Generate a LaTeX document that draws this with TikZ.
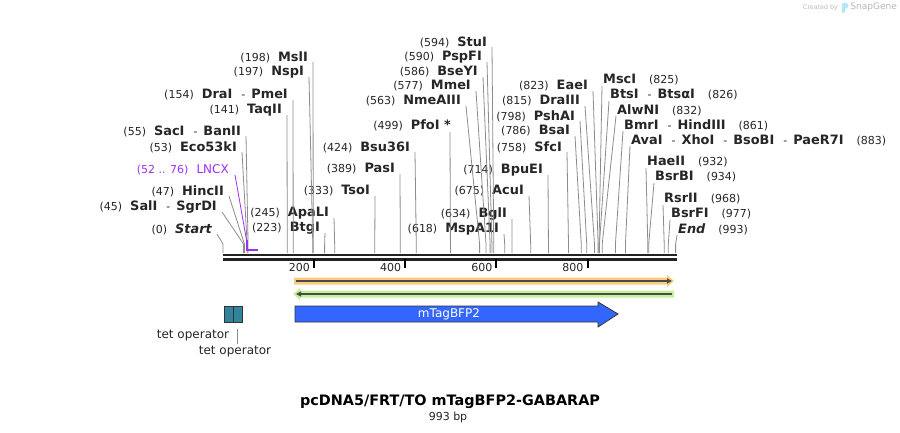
\documentclass[tikz,border=0pt]{standalone}
\usepackage{fontspec}
\setmainfont{DejaVu Sans}
\usepackage{xcolor}
\usetikzlibrary{arrows.meta}

\definecolor{sitegray}{HTML}{8C8C8C}
\definecolor{lncx}{HTML}{9B30F5}
\definecolor{bfpblue}{HTML}{3366FF}
\definecolor{tetteal}{HTML}{31849B}
\definecolor{orangeband}{HTML}{FCCB80}
\definecolor{greenband}{HTML}{C4F29A}
\definecolor{darkline}{HTML}{4A4A4A}
\definecolor{rulerdark}{HTML}{222222}

\newcommand{\numfont}{\fontsize{11}{13}\selectfont}
\newcommand{\enz}[1]{{\fontsize{12.9}{14}\selectfont\bfseries #1}}
\newcommand{\lpos}[1]{(#1)\hspace{8pt}}
\newcommand{\rpos}[1]{\hspace{13pt}(#1)}
\newcommand{\sep}{\hspace{9pt}-\hspace{6pt}}

\tikzset{
  lsite/.style={anchor=east, inner sep=0pt, font=\numfont, text=black!85},
  rsite/.style={anchor=west, inner sep=0pt, font=\numfont, text=black!85},
  cutline/.style={draw=sitegray, line width=0.8pt},
  rulerline/.style={draw=rulerdark, line width=2.6pt},
  opbox/.style={draw=black!80, fill=tetteal, minimum width=9pt, minimum height=16pt, inner sep=0pt, line width=0.8pt},
  feat/.style={inner sep=0pt, font=\fontsize{12}{14}\selectfont, text=black!85},
}

\begin{document}
\begin{tikzpicture}[x=1pt, y=-1pt]
\useasboundingbox[fill=white] (0,0) rectangle (900,433);

% ruler
\draw[rulerline] (223,254.8) -- (676.5,254.8);
\draw[rulerline] (223,259.4) -- (676.5,259.4);
\foreach \t in {200,400,600,800} {
  \draw[line width=2pt] ({223+0.4558*\t},259) -- ({223+0.4558*\t},268);
  \node[anchor=east, inner sep=0pt, font=\numfont, text=black!85] (tick\t) at ({223+0.4558*\t-4},267) {\t};
}

% sites, label left of the cut
\node[lsite] (MslI) at (308,57) {\lpos{198}\enz{MslI}};
\node[lsite] (NspI) at (304,72) {\lpos{197}\enz{NspI}};
\node[lsite] (DraI) at (288,95) {\lpos{154}\enz{DraI}\sep\enz{PmeI}};
\node[lsite] (TaqII) at (282,110) {\lpos{141}\enz{TaqII}};
\node[lsite] (SacI) at (241,131) {\lpos{55}\enz{SacI}\sep\enz{BanII}};
\node[lsite] (Eco53kI) at (237,147) {\lpos{53}\enz{Eco53kI}};
\node[lsite, text=lncx] (LNCX) at (229,170) {(52 .. 76)\hspace{8pt}{\fontsize{12}{14}\selectfont LNCX}};
\node[lsite] (HincII) at (224,191) {\lpos{47}\enz{HincII}};
\node[lsite] (SalI) at (217,207) {\lpos{45}\enz{SalI}\sep\enz{SgrDI}};
\node[lsite] (Start) at (212,229) {\lpos{0}\enz{\itshape Start}};
\node[lsite] (ApaLI) at (329,213) {\lpos{245}\enz{ApaLI}};
\node[lsite] (BtgI) at (320,228) {\lpos{223}\enz{BtgI}};
\node[lsite] (TsoI) at (370,191) {\lpos{333}\enz{TsoI}};
\node[lsite] (PasI) at (395,169) {\lpos{389}\enz{PasI}};
\node[lsite] (Bsu36I) at (410,147) {\lpos{424}\enz{Bsu36I}};
\node[lsite] (PfoI) at (451,125) {\lpos{499}\enz{PfoI *}};
\node[lsite] (NmeAIII) at (461,101) {\lpos{563}\enz{NmeAIII}};
\node[lsite] (MmeI) at (471,86) {\lpos{577}\enz{MmeI}};
\node[lsite] (BseYI) at (478,72) {\lpos{586}\enz{BseYI}};
\node[lsite] (PspFI) at (482,57) {\lpos{590}\enz{PspFI}};
\node[lsite] (StuI) at (487,42) {\lpos{594}\enz{StuI}};
\node[lsite] (MspA1I) at (499,229) {\lpos{618}\enz{MspA1I}};
\node[lsite] (BglI) at (507,214) {\lpos{634}\enz{BglI}};
\node[lsite] (AcuI) at (524,191) {\lpos{675}\enz{AcuI}};
\node[lsite] (BpuEI) at (543,170) {\lpos{714}\enz{BpuEI}};
\node[lsite] (SfcI) at (562,147) {\lpos{758}\enz{SfcI}};
\node[lsite] (BsaI) at (570,131) {\lpos{786}\enz{BsaI}};
\node[lsite] (PshAI) at (575,116) {\lpos{798}\enz{PshAI}};
\node[lsite] (DraIII) at (580,101) {\lpos{815}\enz{DraIII}};
\node[lsite] (EaeI) at (588,86) {\lpos{823}\enz{EaeI}};

% sites, label right of the cut
\node[rsite] (MscI) at (603,80) {\enz{MscI}\rpos{825}};
\node[rsite] (BtsI) at (610,95) {\enz{BtsI}\sep\enz{BtsαI}\rpos{826}};
\node[rsite] (AlwNI) at (617,110) {\enz{AlwNI}\rpos{832}};
\node[rsite] (BmrI) at (624,125) {\enz{BmrI}\sep\enz{HindIII}\rpos{861}};
\node[rsite] (AvaI) at (631,140) {\enz{AvaI}\sep\enz{XhoI}\sep\enz{BsoBI}\sep\enz{PaeR7I}\rpos{883}};
\node[rsite] (HaeII) at (647,162) {\enz{HaeII}\rpos{932}};
\node[rsite] (BsrBI) at (655,177) {\enz{BsrBI}\rpos{934}};
\node[rsite] (RsrII) at (664,199) {\enz{RsrII}\rpos{968}};
\node[rsite] (BsrFI) at (671,214) {\enz{BsrFI}\rpos{977}};
\node[rsite] (End) at (678,229) {\enz{\itshape End}\rpos{993}};

% cut lines
\foreach \n/\b in {MslI/198, NspI/197, DraI/154, TaqII/141, SacI/55, Eco53kI/53, HincII/47, SalI/45, Start/0,
    ApaLI/245, BtgI/223, TsoI/333, PasI/389, Bsu36I/424, NmeAIII/563, MmeI/577, BseYI/586, PspFI/590, StuI/594,
    MspA1I/618, BglI/634, AcuI/675, BpuEI/714, SfcI/758, BsaI/786, PshAI/798, DraIII/815, EaeI/823}
  \draw[cutline] ([xshift=5pt, yshift=-5pt]\n.east) -- ({223+0.4558*\b},244) -- ({223+0.4558*\b},253);
\draw[cutline] ([xshift=-1pt, yshift=-7pt]PfoI.east) -- ({223+0.4558*499},253);
\foreach \n/\b in {MscI/825, BtsI/826, AlwNI/832, BmrI/861, AvaI/883, HaeII/932, BsrBI/934, RsrII/968, BsrFI/977, End/993}
  \draw[cutline] ([xshift=-1pt, yshift=-6pt]\n.west) -- ({223+0.4558*\b},244) -- ({223+0.4558*\b},253);

% LNCX
\draw[lncx, line width=0.8pt] ([xshift=6pt, yshift=-5pt]LNCX.east) -- ({223+0.4558*52},241);
\draw[lncx, line width=1.8pt] ({223+0.4558*52},240) -- ({223+0.4558*52},250) -- ({223+0.4558*76},250);

% primers
\fill[orangeband] (294,277.5) -- (667,277.5) -- (667,275) -- (674,281) -- (667,287) -- (667,284.5) -- (294,284.5) -- cycle;
\draw[darkline, line width=1.6pt, -{Triangle[length=5pt,width=5pt]}] (296,281) -- (672,281);
\fill[greenband] (300,290.5) -- (674,290.5) -- (674,297.5) -- (300,297.5) -- (300,300) -- (293,294) -- (300,288) -- cycle;
\draw[darkline, line width=1.6pt, -{Triangle[length=5pt,width=5pt]}] (672,294) -- (296,294);

% features
\draw[draw=black!80, fill=bfpblue, line width=0.8pt] (295,306) -- (598,306) -- (598,302) -- (618,314) -- (598,327) -- (598,322) -- (295,322) -- cycle;
\node[text=white, font=\fontsize{12}{14}\selectfont] (bfp) at (449,314) {mTagBFP2};

\node[opbox] (op1) at (228.5,314) {};
\node[opbox] (op2) at (237.5,314) {};
\node[feat] (tet1) at (193,336) {tet operator};
\node[feat] (tet2) at (235,352) {tet operator};
\draw[cutline] ([yshift=-7pt]op2.south) -- ([yshift=2pt]op2.south |- tet2.north);

% title
\node[font=\fontsize{14.4}{16}\selectfont\bfseries] (title) at (450,402) {pcDNA5/FRT/TO mTagBFP2-GABARAP};
\node[font=\numfont, text=black!85] (len) at (448,417) {993 bp};

% credit
\node[anchor=east, inner sep=0pt, text=black!28, font=\fontsize{9}{10}\selectfont] (snapgene) at (897,7.5) {SnapGene};
\node[anchor=east, inner sep=0pt, text=black!28, font=\fontsize{6.3}{7}\selectfont] (created) at (838,7.5) {Created by};
\fill[cyan!30, rounded corners=1pt] (842,3) rectangle (845,13);
\fill[cyan!30, rounded corners=1.5pt] (842,3) rectangle (848,8.5);
\end{tikzpicture}
\end{document}
